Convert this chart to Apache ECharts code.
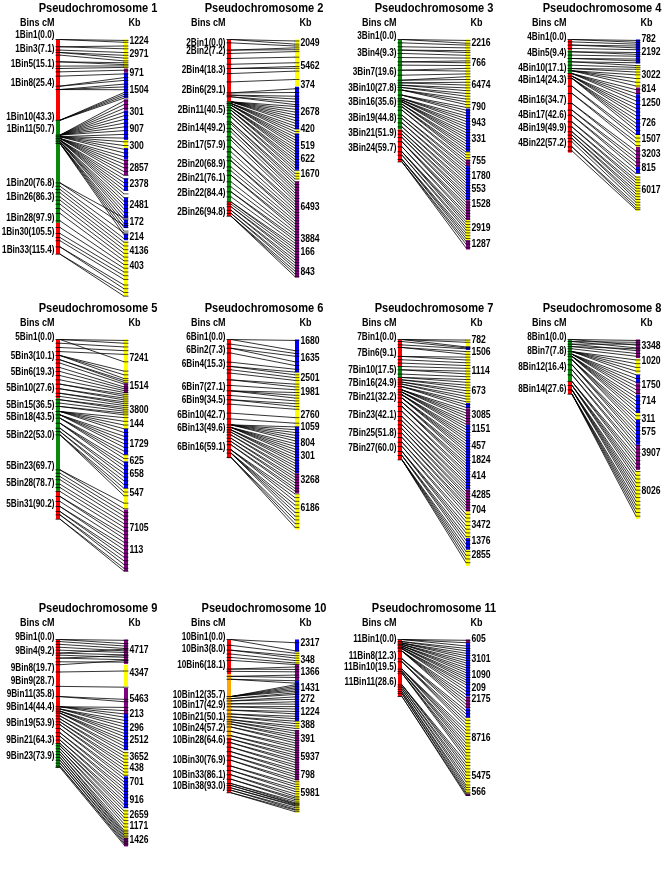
<!DOCTYPE html>
<html><head><meta charset="utf-8">
<script src="https://cdn.jsdelivr.net/npm/echarts@6/dist/echarts.min.js"></script>
<style>html,body{margin:0;padding:0;background:#fff}#c{width:662px;height:882px}</style>
</head><body><div id="c"></div>
<script>
// ---------- DATA (positions along each chromosome, in cM-scaled map units) ----------
const p1Title = 'Pseudochromosome 1';
const p1BinLabels = ['1Bin1(0.0)','1Bin3(7.1)','1Bin5(15.1)','1Bin8(25.4)','1Bin10(43.3)','1Bin11(50.7)','1Bin20(76.8)','1Bin26(86.3)','1Bin28(97.9)','1Bin30(105.5)','1Bin33(115.4)'];
const p1BinLabelAt = [-2.5,5.4,13.3,23.3,41.6,48.4,77.2,84.6,96.2,103.4,113.3];
const p1LeftSegs = [[0,43.4,'R'],[43.4,98.6,'G'],[98.6,115.4,'R']];
const p1RightSegs = [[0,15.6,'Y'],[15.6,17.9,'P'],[17.9,31.4,'B'],[32.1,38.2,'P'],[38.2,54,'B'],[54,58.4,'Y'],[58.4,64.5,'B'],[64.5,73.1,'P'],[74.6,81.4,'B'],[85,96.1,'B'],[96.8,101.4,'B'],[104.3,107.9,'B'],[108.6,138,'Y']];
const p1KbLabels = ['1224','2971','971','1504','301','907','300','2857','2378','2481','172','214','4136','403'];
const p1KbAt = [0.7,7.9,18.3,27.2,38.9,48.2,57.2,69,77.8,89.1,98,106.3,113.6,121.9];
const p1Links = [[0,[0.5,1.5]],[3.9,[3.5,5.0]],[5.7,[7.0]],[7.0,[8.5,10.0]],[8.4,[11.5]],[12.0,[12.5,13.5]],[14.3,[14.2]],[15.6,[15.0]],[17.4,[16.5]],[19.7,[18.5]],[25.1,[20.5,22.0]],[26.9,[24.0,25.5,27.0]],[43.4,[28.5,29.5,30.5,31.5]],[51.4,[33,35,37,39,41,43,45,47,49]],[52.3,[51,53,55,57,59,61]],[53.2,[63,65,67,69,71,73]],[54.1,[75,77,79,81,83,85]],[55.0,[87,89,91,93,95]],[55.9,[97,99,101,103,105]],[77.1,[96,100]],[78.9,[104]],[80.6,[107]],[82.4,[109]],[84.6,[111]],[86.4,[113]],[88.5,[115]],[90.9,[117]],[93.5,[119]],[97.5,[121]],[101.1,[123]],[104.3,[125]],[106.5,[127]],[108.2,[129]],[111.5,[132,134]],[115.4,[136,138]]];

const p2Title = 'Pseudochromosome 2';
const p2BinLabels = ['2Bin1(0.0)','2Bin2(7.2)','2Bin4(18.3)','2Bin6(29.1)','2Bin11(40.5)','2Bin14(49.2)','2Bin17(57.9)','2Bin20(68.9)','2Bin21(76.1)','2Bin22(84.4)','2Bin26(94.8)'];
const p2BinLabelAt = [1.8,6.1,16.8,27.2,38.0,47.5,56.8,67.2,74.4,82.4,93.0];
const p2LeftSegs = [[0,33.5,'R'],[33.5,87.3,'G'],[87.3,95,'R']];
const p2RightSegs = [[0,25.1,'Y'],[25.4,48.4,'B'],[48.4,50.5,'Y'],[50.5,70.1,'B'],[71,75.3,'Y'],[76.3,128,'P']];
const p2KbLabels = ['2049','5462','374','2678','420','519','622','1670','6493','3884','166','843'];
const p2KbAt = [1.8,14.3,24.6,38.9,48.4,57.2,64.5,72.4,90.0,107.5,114.5,124.9];
const p2Links = [[0,[0.8,2.5]],[1.8,[3.5]],[5.7,[4.5,5.5]],[7.5,[6.5]],[10.2,[9.5]],[13.3,[12.5]],[15.6,[14.5,15.5]],[18.3,[17.0]],[22.8,[21.5]],[28.7,[26.5,28.5]],[29.9,[30.5,32.0]],[30.8,[33.5,35.0]],[33.5,[36,37.5,39,40.5,42,43.5,45]],[34.4,[46.5,48,49.5,51]],[35.3,[52.5,54,55.5,57]],[36.6,[58.5,60,61.5,63]],[38.0,[64.5,66,67.5]],[39.8,[69,70.5]],[41.6,[72,73.5]],[44.3,[75,76.5]],[45.5,[78]],[47.8,[79.5,81]],[49.6,[82.5]],[52.3,[84,85.5]],[54.1,[87]],[57.7,[88.5,90]],[60.4,[91.5]],[63.1,[93]],[65.2,[94.5,96]],[68.5,[97.5]],[70.6,[99]],[73.0,[100.5,102]],[76.5,[103.5]],[79.2,[105]],[81.9,[106.5,108]],[84.6,[109.5]],[87.3,[111,112.5]],[88.5,[114]],[89.9,[115.5,117]],[91.8,[118.5,120]],[93.5,[121.5,123]],[95.0,[124.5,126,127.5]]];

const p3Title = 'Pseudochromosome 3';
const p3BinLabels = ['3Bin1(0.0)','3Bin4(9.3)','3Bin7(19.6)','3Bin10(27.8)','3Bin16(35.6)','3Bin19(44.8)','3Bin21(51.9)','3Bin24(59.7)'];
const p3BinLabelAt = [-1.8,7.5,17.7,26.3,33.5,42.5,50.2,58.2];
const p3LeftSegs = [[0,48.4,'G'],[48.4,65.8,'R']];
const p3RightSegs = [[0,37.1,'Y'],[37.1,60.4,'B'],[60.4,64.5,'Y'],[64.5,68.1,'P'],[68.1,86.4,'B'],[86.4,97.1,'P'],[97.1,107.9,'Y'],[107.9,112.9,'P']];
const p3KbLabels = ['2216','766','6474','790','943','331','755','1780','553','1528','2919','1287'];
const p3KbAt = [1.8,12.5,24.6,36.6,45.2,53.6,65.4,73.3,80.5,88.7,101.6,110.0];
const p3Links = [[0,[0.5,2.0]],[1.8,[3.0]],[3.9,[4.5]],[5.7,[6.0,7.0]],[7.5,[8.5]],[9.7,[10.0]],[12.0,[11.5,12.5]],[13.8,[14.0]],[16.5,[15.5,17.0]],[19.2,[18.5]],[21.9,[20.0,21.5]],[23.3,[23.0,24.5]],[24.6,[26.0,27.5]],[25.8,[29,30.5]],[27.2,[32,33.5,35]],[29.9,[36.5,38,39.5]],[31.7,[41,42.5,44]],[32.6,[45.5,47,48.5]],[33.5,[50,51.5,53,54.5]],[34.8,[56,57.5,59]],[36.2,[60.5,62,63.5]],[38.0,[65,66.5]],[40.7,[68,69.5]],[42.5,[71,72.5]],[44.8,[74,75.5]],[47.0,[77,78.5]],[49.1,[80,81.5]],[50.9,[83,84.5]],[52.7,[86,87.5]],[55.0,[89,90.5,92]],[57.7,[93.5,95]],[60.4,[96.5,98,99.5]],[62.2,[101,102.5]],[64.5,[104,105.5,107]],[65.8,[108.5,110,112]]];

const p4Title = 'Pseudochromosome 4';
const p4BinLabels = ['4Bin1(0.0)','4Bin5(9.4)','4Bin10(17.1)','4Bin14(24.3)','4Bin16(34.7)','4Bin17(42.6)','4Bin19(49.9)','4Bin22(57.2)'];
const p4BinLabelAt = [-1.1,7.5,15.6,21.9,32.6,40.7,47.8,55.6];
const p4LeftSegs = [[0,5.8,'R'],[5.8,18,'G'],[18,60.8,'R']];
const p4RightSegs = [[0,12.9,'B'],[13.8,25.8,'Y'],[25.8,29.4,'P'],[29.4,51.4,'B'],[51.4,57.7,'Y'],[57.7,68.5,'P'],[68.5,72.0,'B'],[73.5,92.1,'Y']];
const p4KbLabels = ['782','2192','3022','814','1250','726','1507','3203','815','6017'];
const p4KbAt = [-0.2,7.0,19.2,26.9,34.4,44.8,53.8,61.6,69.4,81.0];
const p4Links = [[0,[0.5,1.5]],[1.3,[2.5]],[3.0,[3.5,4.5]],[4.8,[5.5]],[6.6,[7.0,8.0]],[8.4,[9.0]],[10.2,[10.5,11.5]],[12.0,[12.5,14.0]],[13.8,[15.0]],[15.6,[16.0,17.5]],[16.8,[19,21,23,25]],[18.3,[27,29,31,33]],[19.7,[35,37,39,41]],[20.9,[43,45,47,49]],[25.1,[51,53]],[29.0,[55,57]],[34.4,[60,62]],[38.0,[64,66]],[40.7,[68,70]],[44.3,[72,74]],[47.0,[75.5,77]],[49.6,[78.5,80]],[51.4,[81.5,83]],[53.2,[84.5,86]],[55.0,[87.5]],[57.7,[89,90.5]],[59.9,[91.5]]];

const p5Title = 'Pseudochromosome 5';
const p5BinLabels = ['5Bin1(0.0)','5Bin3(10.1)','5Bin6(19.3)','5Bin10(27.6)','5Bin15(36.5)','5Bin18(43.5)','5Bin22(53.0)','5Bin23(69.7)','5Bin28(78.7)','5Bin31(90.2)'];
const p5BinLabelAt = [-1.1,8.8,17.6,26.2,35.1,41.8,51.6,68.3,77.2,88.5];
const p5LeftSegs = [[0,31.6,'R'],[31.6,81.4,'G'],[81.4,96.6,'R']];
const p5RightSegs = [[0,23.5,'Y'],[23.5,29.0,'P'],[29.0,48.0,'Y'],[48.0,62.0,'B'],[62.0,65.6,'Y'],[65.6,80.1,'B'],[80.1,91.0,'Y'],[91.4,124.7,'P']];
const p5KbLabels = ['7241','1514','3800','144','1729','625','658','547','7105','113'];
const p5KbAt = [10.0,25.3,37.8,45.5,56.1,65.2,72.2,82.6,101.4,113.1];
const p5Links = [[0,[0.5,2.0,12.0]],[2.0,[4.0]],[4.3,[6.0]],[6.5,[8.0]],[8.6,[17.0,19.0,21.0]],[10.9,[22.0,23.0]],[12.7,[24.0]],[15.1,[25.5]],[17.2,[26.5]],[19.4,[27.5]],[21.7,[28.5]],[24.0,[29.5,30.5]],[26.5,[31.5,32.5]],[28.9,[33.5,34.5]],[30.6,[35.5]],[32.4,[36.5,37.5]],[34.2,[38.5]],[36.0,[39.5,40.5]],[38.7,[42,44,46,48,50]],[40.5,[52,54,56,58]],[42.3,[60,62,64]],[45.0,[66,68,70]],[47.7,[72,74]],[49.5,[76,78]],[51.3,[80,82,84]],[70.1,[88,91]],[71.9,[93]],[73.7,[95]],[75.4,[97]],[77.8,[99]],[79.6,[101]],[81.7,[103]],[84.4,[105,107]],[87.1,[109]],[89.8,[111,113]],[92.5,[115,117]],[94.3,[119,121]],[96.6,[123,124.5]]];

const p6Title = 'Pseudochromosome 6';
const p6BinLabels = ['6Bin1(0.0)','6Bin2(7.3)','6Bin4(15.3)','6Bin7(27.1)','6Bin9(34.5)','6Bin10(42.7)','6Bin13(49.6)','6Bin16(59.1)'];
const p6BinLabelAt = [-1.1,5.6,13.3,25.8,32.4,40.9,47.7,57.9];
const p6LeftSegs = [[0,63.8,'R']];
const p6RightSegs = [[0,17.6,'B'],[18.1,46.8,'Y'],[46.8,71.9,'B'],[71.9,82.6,'P'],[83.2,102.2,'Y']];
const p6KbLabels = ['1680','1635','2501','1981','2760','1059','804','301','3268','6186'];
const p6KbAt = [0.7,10.0,20.8,28.3,40.5,47.3,55.7,62.9,75.4,90.7];
const p6Links = [[0,[0.5,6.0]],[2.5,[7.5]],[4.7,[9.0,12.0]],[7.3,[14.0]],[12.2,[16.0]],[14.5,[17.5,19.0]],[16.3,[20.5]],[18.1,[22.0]],[21.7,[24.0,25.5]],[24.7,[27.0]],[27.6,[28.5,30.0,31.5]],[30.1,[33.0]],[32.4,[34.5,36.0]],[34.8,[37.5]],[39.6,[42.0]],[42.7,[45.0]],[45.9,[47,48.5,50,51.5,53,54.5]],[47.3,[56,57.5,59,60.5,62]],[48.6,[63.5,65,66.5]],[49.8,[68,69.5]],[51.3,[71,72.5]],[53.1,[74,75.5]],[54.8,[77,78.5]],[56.6,[80,81.5]],[59.3,[83,85,87]],[61.1,[89,91,93,95]],[63.4,[97,99,101]]];

const p7Title = 'Pseudochromosome 7';
const p7BinLabels = ['7Bin1(0.0)','7Bin6(9.1)','7Bin10(17.5)','7Bin16(24.9)','7Bin21(32.2)','7Bin23(42.1)','7Bin25(51.8)','7Bin27(60.0)'];
const p7BinLabelAt = [-1.1,7.3,16.3,23.5,31.0,40.5,50.4,58.4];
const p7LeftSegs = [[0,14.5,'R'],[14.5,20.4,'G'],[20.4,64.7,'R']];
const p7RightSegs = [[0,3.8,'Y'],[3.8,5.6,'B'],[6.1,34.2,'Y'],[34.2,37.0,'B'],[37.0,45.9,'P'],[45.9,80.8,'B'],[80.8,92.5,'P'],[92.5,106.8,'Y'],[106.8,113.1,'B'],[113.1,121.7,'Y']];
const p7KbLabels = ['782','1506','1114','673','3085','1151','457','1824','414','4285','704','3472','1376','2855'];
const p7KbAt = [0.2,7.0,16.8,28.0,40.5,48.2,57.5,65.1,73.3,83.5,91.6,99.6,108.6,115.8];
const p7Links = [[0,[0.3,1.5,4.0]],[1.1,[4.5]],[2.9,[5.0]],[4.3,[6.5,8.0]],[9.1,[9.5,11]],[10.9,[12.5]],[12.7,[14]],[14.5,[15.5]],[16.3,[17,18.5]],[18.6,[20]],[20.4,[21.5,23]],[21.7,[24.5,26]],[22.9,[27.5,29]],[24.0,[30.5,32]],[25.3,[33.5,35,36.5]],[27.1,[38,39.5,41,42.5]],[28.3,[44,45.5,47,48.5]],[29.7,[50,51.5,53,54.5]],[31.5,[56,57.5,59,60.5]],[33.7,[62,63.5,65]],[36.0,[66.5,68,69.5]],[38.7,[71,72.5]],[41.4,[74,75.5]],[43.7,[77,78.5]],[45.9,[80,81.5]],[48.0,[83,84.5]],[50.4,[86,87.5]],[52.7,[89,90.5]],[55.2,[92,94]],[57.5,[96,98]],[60.2,[100,102,104]],[62.4,[106,108,110]],[64.7,[112,114,116,118,120]]];

const p8Title = 'Pseudochromosome 8';
const p8BinLabels = ['8Bin1(0.0)','8Bin7(7.8)','8Bin12(16.4)','8Bin14(27.6)'];
const p8BinLabelAt = [-1.1,6.1,14.9,26.5];
const p8LeftSegs = [[0,22.6,'G'],[22.6,29.4,'R']];
const p8RightSegs = [[0,10.0,'P'],[10.4,18.1,'Y'],[19.0,23.5,'B'],[23.5,29.7,'P'],[29.7,39.6,'B'],[39.6,43.2,'Y'],[43.2,56.6,'B'],[56.6,70.1,'P'],[70.6,96.4,'Y']];
const p8KbLabels = ['3348','1020','1750','714','311','575','3907','8026'];
const p8KbAt = [3.8,11.5,24.7,33.3,42.7,50.0,61.1,81.7];
const p8Links = [[0,[0.5,3.0]],[1.1,[1.5,4.5]],[2.5,[2.5,6.0]],[3.8,[5.0,7.5]],[5.0,[9.0]],[6.5,[11,13,15,17,19]],[7.9,[21,23,25,27,29]],[9.1,[31,33,35,37,39]],[10.9,[41,43,45,47]],[13.6,[49,51,53]],[16.3,[55,57]],[19.0,[59,61]],[22.6,[63,65,67]],[24.7,[69,71,73,75]],[27.1,[77,79,81,83,85]],[29.4,[87,89,91,93,95]]];

const p9Title = 'Pseudochromosome 9';
const p9BinLabels = ['9Bin1(0.0)','9Bin4(9.2)','9Bin8(19.7)','9Bin9(28.7)','9Bin11(35.8)','9Bin14(44.4)','9Bin19(53.9)','9Bin21(64.3)','9Bin23(73.9)'];
const p9BinLabelAt = [-1.1,7.5,17.9,26.0,33.9,41.6,52.0,62.2,72.0];
const p9LeftSegs = [[0,64.0,'R'],[64.0,79.2,'G']];
const p9RightSegs = [[0,15.1,'P'],[15.6,29.0,'Y'],[29.9,46.1,'P'],[46.1,68.5,'B'],[69.4,84.6,'Y'],[84.6,104.3,'B'],[105.2,122.6,'Y'],[122.6,128,'P']];
const p9KbLabels = ['4717','4347','5463','213','296','2512','3652','438','701','916','2659','1171','1426'];
const p9KbAt = [6.6,21.0,37.1,46.1,54.7,62.5,72.6,79.6,88.2,99.3,108.8,115.6,124.0];
const p9Links = [[0,[0.5,2.5]],[1.3,[4.0]],[3.0,[5.5]],[4.8,[7.0]],[6.6,[8.0]],[8.4,[6.0,9.5]],[9.7,[11.0]],[11.5,[10.0,12.5]],[13.8,[14.0]],[15.6,[13.0]],[20.1,[19.5]],[29.0,[29.5]],[35.3,[37.0,38.5]],[41.6,[42,44,46,48]],[43.0,[50,52,54]],[44.3,[56,58,60]],[45.5,[62,64,66]],[47.3,[68,70]],[49.1,[72,74]],[50.9,[76,78]],[52.7,[80,82]],[55.0,[84,86]],[57.7,[88,90]],[59.9,[92,94]],[62.2,[96,98]],[64.3,[100,102]],[65.8,[104,106]],[67.6,[108,110]],[69.4,[112,114]],[71.1,[116,118]],[72.9,[119,120]],[74.7,[121,122]],[76.5,[123,124]],[78.3,[125,126]],[79.2,[127]]];

const p10Title = 'Pseudochromosome 10';
const p10BinLabels = ['10Bin1(0.0)','10Bin3(8.0)','10Bin6(18.1)','10Bin12(35.7)','10Bin17(42.9)','10Bin21(50.1)','10Bin24(57.2)','10Bin28(64.6)','10Bin30(76.9)','10Bin33(86.1)','10Bin38(93.0)'];
const p10BinLabelAt = [-1.1,6.3,16.1,34.4,40.7,48.4,55.2,62.2,74.7,84.2,90.5];
const p10LeftSegs = [[0,21.5,'R'],[21.5,60.8,'O'],[60.8,94.8,'R']];
const p10RightSegs = [[0,7.5,'B'],[7.9,15.4,'Y'],[15.4,25.4,'P'],[25.4,50.5,'B'],[50.5,55.0,'Y'],[55.9,87.3,'P'],[87.3,107,'Y']];
const p10KbLabels = ['2317','348','1366','1431','272','1224','388','391','5937','798','5981'];
const p10KbAt = [2.2,12.5,20.1,29.9,36.7,44.8,53.2,61.8,72.6,83.7,94.8];
const p10Links = [[0,[2.0,7.0]],[3.6,[8.5]],[6.6,[10.0,11.5]],[9.0,[13.0]],[11.1,[14.5]],[12.9,[15.5]],[18.3,[17.0,18.5]],[19.7,[20.0]],[22.8,[22.0,23.5]],[24.6,[25.5,27.0]],[35.3,[28,29,30,31,32]],[36.6,[33,34]],[38.0,[35.5,37]],[39.8,[38.5,40]],[41.6,[41.5,43]],[43.7,[44.5,46]],[46.1,[47.5,49]],[47.8,[50.5,52]],[49.6,[53.5,55]],[50.9,[56.5,58]],[52.3,[59.5,61]],[54.1,[62.5,64]],[56.8,[65.5,67]],[59.5,[68.5,70]],[61.6,[71.5,73]],[63.9,[74.5,76]],[66.6,[77.5,79]],[69.4,[80.5,82]],[72.0,[83.5,85]],[74.7,[86.5,88]],[78.3,[89.5,91]],[81.0,[92.5,94]],[83.7,[95.5,97]],[86.4,[98,99]],[89.1,[100,101]],[90.3,[101.5,102]],[91.8,[102.5,103]],[93.2,[104,105]],[94.8,[105.5,106.5]]];

const p11Title = 'Pseudochromosome 11';
const p11BinLabels = ['11Bin1(0.0)','11Bin8(12.3)','11Bin10(19.5)','11Bin11(28.6)'];
const p11BinLabelAt = [0,10.2,17.4,26.7];
const p11LeftSegs = [[0,35.3,'R']];
const p11RightSegs = [[0,2.2,'P'],[2.2,35.3,'B'],[35.3,42.5,'P'],[42.5,48.4,'B'],[48.7,95.3,'Y'],[95.3,96.8,'P']];
const p11KbLabels = ['605','3101','1090','209','2175','8716','5475','566'];
const p11KbAt = [-0.5,12.0,21.9,29.9,37.1,61.3,84.6,94.4];
const p11Links = [[0,[0.5,2.0,4]],[1.3,[5.5,7]],[2.2,[8.5,10,11.5]],[3.0,[13,14.5,16]],[3.9,[17.5,19,20.5]],[4.8,[22,23.5,25]],[5.7,[26.5,28,30,32]],[7.2,[34,36,38,40,42]],[12.0,[44,46,48]],[13.8,[50,52,54]],[18.3,[56,58,60,62]],[19.7,[64,66,68]],[20.9,[70,72,74]],[28.1,[76,78,80]],[29.4,[82,84]],[30.8,[86,88]],[32.3,[90,91.5]],[33.5,[93,94.5]],[35.3,[95.5,96.5]]];

// ---------- LAYOUT / STYLE ----------
const PX_PER_UNIT = 1.86, Y_MAX = 150, BAR_W = 4, SPAN = 64;
const COL_X = [56, 227, 398, 568];
const ROW_Y = [39.5, 339.5, 639.5];
const TITLE_CX = [98, 264, 434, 602];
const COLORS = {R:'#ff0000', G:'#0a8a0a', Y:'#ffff00', B:'#0000ff', P:'#800080', O:'#ffa500'};
const FAM = '"Liberation Sans",Arial,sans-serif';
const NARROW = 0.82; // horizontal condensation to mimic a narrow face
const F_TITLE = 'bold 13.5px ' + FAM, F_HEAD = 'bold 11px ' + FAM, F_LAB = 'bold 10px ' + FAM, F_KB = 'bold 10.5px ' + FAM;

const panels = [
 [p1Title,p1BinLabels,p1BinLabelAt,p1LeftSegs,p1RightSegs,p1KbLabels,p1KbAt,p1Links],
 [p2Title,p2BinLabels,p2BinLabelAt,p2LeftSegs,p2RightSegs,p2KbLabels,p2KbAt,p2Links],
 [p3Title,p3BinLabels,p3BinLabelAt,p3LeftSegs,p3RightSegs,p3KbLabels,p3KbAt,p3Links],
 [p4Title,p4BinLabels,p4BinLabelAt,p4LeftSegs,p4RightSegs,p4KbLabels,p4KbAt,p4Links],
 [p5Title,p5BinLabels,p5BinLabelAt,p5LeftSegs,p5RightSegs,p5KbLabels,p5KbAt,p5Links],
 [p6Title,p6BinLabels,p6BinLabelAt,p6LeftSegs,p6RightSegs,p6KbLabels,p6KbAt,p6Links],
 [p7Title,p7BinLabels,p7BinLabelAt,p7LeftSegs,p7RightSegs,p7KbLabels,p7KbAt,p7Links],
 [p8Title,p8BinLabels,p8BinLabelAt,p8LeftSegs,p8RightSegs,p8KbLabels,p8KbAt,p8Links],
 [p9Title,p9BinLabels,p9BinLabelAt,p9LeftSegs,p9RightSegs,p9KbLabels,p9KbAt,p9Links],
 [p10Title,p10BinLabels,p10BinLabelAt,p10LeftSegs,p10RightSegs,p10KbLabels,p10KbAt,p10Links],
 [p11Title,p11BinLabels,p11BinLabelAt,p11LeftSegs,p11RightSegs,p11KbLabels,p11KbAt,p11Links]
];

const grid = [], xAxis = [], yAxis = [], series = [], graphic = [];
const base = {type:'custom', silent:true, animation:false, clip:false};

panels.forEach((p, k) => {
  const [title, binLabels, binAt, lSegs, rSegs, kbLabels, kbAt, links] = p;
  const col = k % 4, row = Math.floor(k / 4);
  grid.push({left: COL_X[col] + BAR_W, top: ROW_Y[row], width: SPAN, height: Y_MAX * PX_PER_UNIT});
  xAxis.push({gridIndex:k, type:'value', min:0, max:1, show:false});
  yAxis.push({gridIndex:k, type:'value', min:0, max:Y_MAX, inverse:true, show:false});
  const ax = {xAxisIndex:k, yAxisIndex:k};
  const flat = [];
  links.forEach(g => g[1].forEach(r => flat.push([g[0], r])));

  // chromosome bars
  series.push(Object.assign({}, base, ax, {
    data: lSegs.map(s => [0, s[0], s[1]]), encode:{x:0, y:[1,2]},
    renderItem: (pr, api) => { const a = api.coord([0, api.value(1)]), b = api.coord([0, api.value(2)]);
      return {type:'rect', shape:{x:a[0]-BAR_W, y:a[1], width:BAR_W, height:b[1]-a[1]}, style:{fill: COLORS[lSegs[pr.dataIndex][2]]}}; }
  }));
  series.push(Object.assign({}, base, ax, {
    data: rSegs.map(s => [1, s[0], s[1]]), encode:{x:0, y:[1,2]},
    renderItem: (pr, api) => { const a = api.coord([1, api.value(1)]), b = api.coord([1, api.value(2)]);
      return {type:'rect', shape:{x:a[0], y:a[1], width:BAR_W, height:b[1]-a[1]}, style:{fill: COLORS[rSegs[pr.dataIndex][2]]}}; }
  }));
  // connecting lines
  series.push(Object.assign({}, base, ax, {
    data: flat, encode:{y:[0,1]},
    renderItem: (pr, api) => { const a = api.coord([0, api.value(0)]), b = api.coord([1, api.value(1)]);
      return {type:'line', shape:{x1:a[0], y1:a[1], x2:b[0], y2:b[1]}, style:{stroke:'#000', lineWidth:0.8}}; }
  }));
  // bin ticks (left) and marker ticks (right)
  series.push(Object.assign({}, base, ax, {
    data: links.map(g => [0, g[0]]), encode:{x:0, y:1},
    renderItem: (pr, api) => { const a = api.coord([0, api.value(1)]);
      return {type:'line', shape:{x1:a[0]-BAR_W-0.5, y1:a[1], x2:a[0]+0.5, y2:a[1]}, style:{stroke:'#000', lineWidth:0.8}}; }
  }));
  series.push(Object.assign({}, base, ax, {
    data: flat.map(f => [1, f[1]]), encode:{x:0, y:1},
    renderItem: (pr, api) => { const a = api.coord([1, api.value(1)]);
      return {type:'line', shape:{x1:a[0]-0.5, y1:a[1], x2:a[0]+BAR_W+0.5, y2:a[1]}, style:{stroke:'#000', lineWidth:0.7}}; }
  }));
  // bin labels
  series.push(Object.assign({}, base, ax, {
    data: binAt.map(v => [0, v]), encode:{x:0, y:1},
    renderItem: (pr, api) => { const a = api.coord([0, api.value(1)]);
      return {type:'text', x:a[0]-BAR_W-1.5, y:a[1], scaleX:NARROW, style:{text: binLabels[pr.dataIndex], font:F_LAB, fill:'#000', align:'right', verticalAlign:'middle'}}; }
  }));
  // Kb labels
  series.push(Object.assign({}, base, ax, {
    data: kbAt.map(v => [1, v]), encode:{x:0, y:1},
    renderItem: (pr, api) => { const a = api.coord([1, api.value(1)]);
      return {type:'text', x:a[0]+BAR_W+1.5, y:a[1], scaleX:NARROW, style:{text: kbLabels[pr.dataIndex], font:F_KB, fill:'#000', align:'left', verticalAlign:'middle'}}; }
  }));
  // headings
  graphic.push({type:'text', x:TITLE_CX[col], y:ROW_Y[row]-31.5, scaleX:NARROW, silent:true,
    style:{text:title, font:F_TITLE, fill:'#000', align:'center', verticalAlign:'middle'}});
  graphic.push({type:'text', x:COL_X[col]-1.5, y:ROW_Y[row]-17, scaleX:NARROW, silent:true,
    style:{text:'Bins cM', font:F_HEAD, fill:'#000', align:'right', verticalAlign:'middle'}});
  graphic.push({type:'text', x:COL_X[col]+BAR_W+SPAN+BAR_W+0.5, y:ROW_Y[row]-17, scaleX:NARROW, silent:true,
    style:{text:'Kb', font:F_HEAD, fill:'#000', align:'left', verticalAlign:'middle'}});
});

const chart = echarts.init(document.getElementById('c'), null, {renderer:'canvas'});
chart.setOption({backgroundColor:'#fff', animation:false, grid, xAxis, yAxis, series, graphic});
</script></body></html>
